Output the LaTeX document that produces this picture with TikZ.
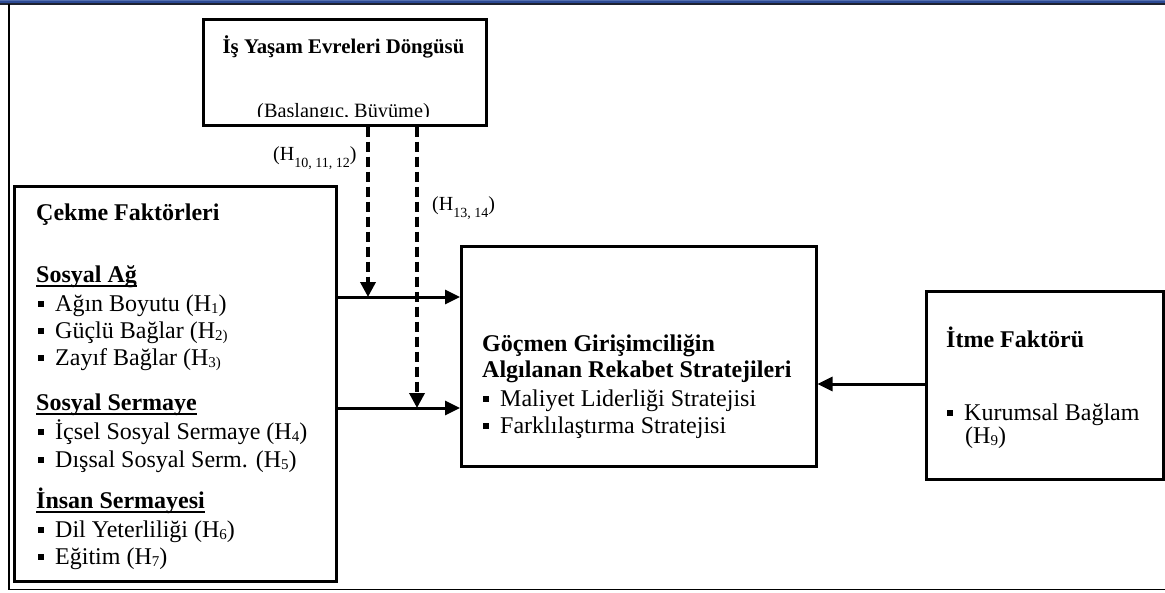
\documentclass[tikz,border=0pt]{standalone}
\usepackage{fontspec}
\setmainfont{Liberation Serif}
\usetikzlibrary{arrows.meta}
\newcommand\bul{\raisebox{4.5pt}{\rule{6pt}{6pt}}\hspace{11pt}}
\newcommand\hs[1]{\raisebox{-2pt}{\fontsize{15}{15}\selectfont #1}}
\newcommand\hl[1]{\raisebox{-7pt}{\fontsize{14}{14}\selectfont #1}}
\newcommand\myul[1]{\leavevmode\setbox0\hbox{#1}\rlap{\rule[-4.5pt]{\wd0}{2pt}}\box0}
\begin{document}
\begin{tikzpicture}[x=1pt,y=-1pt,
  box/.style={draw, line width=2.5pt, inner sep=0pt, anchor=north west},
  txt/.style={inner sep=0pt, anchor=base west, font=\fontsize{24}{27}\selectfont},
  btxt/.style={inner sep=0pt, anchor=base west, font=\fontsize{24}{27}\selectfont\bfseries},
  small/.style={inner sep=0pt, anchor=base west, font=\fontsize{20}{24}\selectfont},
  arr/.style={line width=3pt, -{Triangle[length=15pt,width=14pt]}},
  darr/.style={line width=3.5pt, dash pattern=on 10pt off 5pt, -{Triangle[length=15pt,width=15pt]}}]
\useasboundingbox (0,0) rectangle (1165,592);
% top band and outer frame
\fill[color={rgb,255:red,85;green,112;blue,176}] (0,0) rectangle (1165,1.2);
\fill[color={rgb,255:red,44;green,74;blue,148}] (0,1.2) rectangle (1165,2.7);
\fill[color={rgb,255:red,30;green,34;blue,48}] (0,3.4) rectangle (1165,4.7);
\draw[line width=1.3pt] (9,4) -- (9,589.5) -- (1165,589.5);
% boxes
\node[box, minimum width=283pt, minimum height=106pt] (cycle) at (202,18) {};
\node[box, minimum width=322pt, minimum height=395pt] (pull) at (13,185) {};
\node[box, minimum width=355pt, minimum height=220pt] (comp) at (460,245) {};
\node[box, minimum width=237pt, minimum height=188pt] (push) at (925,290) {};
% top box text
\node[inner sep=0pt, anchor=base, font=\fontsize{20.8}{24}\selectfont\bfseries] (cyct) at (343.5,53) {İş Yaşam Evreleri Döngüsü};
\begin{scope}
\clip (205,20) rectangle (482,116);
\node[inner sep=0pt, anchor=base, font=\fontsize{20.3}{24}\selectfont] (cycs) at (343.5,117.5) {(Baslangıc, Büyüme)};
\end{scope}
% labels
\node[small] (l1) at (273,160) {(H\hl{10, 11, 12})};
\node[small] (l2) at (432,210) {(H\hl{13, 14})};
% pull box text
\node[btxt] (p0) at (36,220) {Çekme Faktörleri};
\node[btxt] (p1) at (36,282) {\myul{Sosyal Ağ}};
\node[txt] (p2) at (38,311) {\bul Ağın Boyutu (H\hs{1})};
\node[txt] (p3) at (38,338) {\bul Güçlü Bağlar (H\hs{2)}};
\node[txt] (p4) at (38,365) {\bul Zayıf Bağlar (H\hs{3)}};
\node[btxt] (p5) at (36,410) {\myul{Sosyal Sermaye}};
\node[txt] (p6) at (38,439) {\bul İçsel Sosyal Sermaye (H\hs{4})};
\node[txt] (p7) at (38,467) {\bul Dışsal Sosyal Serm. (H\hs{5})};
\node[btxt] (p8) at (36,508) {\myul{İnsan Sermayesi}};
\node[txt] (p9) at (38,537) {\bul Dil Yeterliliği (H\hs{6})};
\node[txt] (p10) at (38,564) {\bul Eğitim (H\hs{7})};
% central box text
\node[btxt] (c1) at (482,351) {Göçmen Girişimciliğin};
\node[btxt] (c2) at (482,377) {Algılanan Rekabet Stratejileri};
\node[txt] (c3) at (483,406) {\bul Maliyet Liderliği Stratejisi};
\node[txt] (c4) at (483,433) {\bul Farklılaştırma Stratejisi};
% push box text
\node[btxt] (r1) at (946,347) {İtme Faktörü};
\node[txt] (r2) at (947,420) {\bul Kurumsal Bağlam};
\node[txt] (r3) at (965,443) {(H\hs{9})};
% connectors
\coordinate (ya) at (0,297);
\coordinate (yb) at (0,408);
\coordinate (yc) at (0,384);
\coordinate (xa) at (368,0);
\coordinate (xb) at (417,0);
\draw[arr] (pull.east |- ya) -- (comp.west |- ya);
\draw[arr] (pull.east |- yb) -- (comp.west |- yb);
\draw[arr] (push.west |- yc) -- (comp.east |- yc);
\draw[darr] (cycle.south -| xa) -- (xa |- ya);
\draw[darr] (cycle.south -| xb) -- (xb |- yb);
\end{tikzpicture}
\end{document}
